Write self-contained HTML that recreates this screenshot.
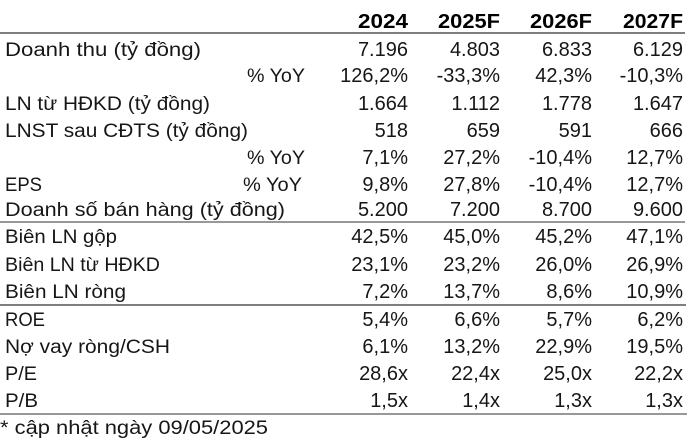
<!DOCTYPE html>
<html>
<head>
<meta charset="utf-8">
<style>
html,body{margin:0;padding:0;background:#fff;}
svg{display:block;}
text{font-family:"Liberation Sans","DejaVu Sans",sans-serif;fill:#161616;font-size:19px;}
.h{font-weight:bold;font-size:20px;fill:#000;}
.n{text-anchor:end;font-size:20px;}
</style>
</head>
<body>
<svg width="689" height="444" viewBox="0 0 689 444" xmlns="http://www.w3.org/2000/svg">
<!-- header -->
<text class="h n" x="408" y="28" textLength="50" lengthAdjust="spacingAndGlyphs">2024</text>
<text class="h n" x="500" y="28" textLength="62" lengthAdjust="spacingAndGlyphs">2025F</text>
<text class="h n" x="592" y="28" textLength="62" lengthAdjust="spacingAndGlyphs">2026F</text>
<text class="h n" x="683" y="28" textLength="60" lengthAdjust="spacingAndGlyphs">2027F</text>
<line x1="0" y1="33" x2="685" y2="33" stroke="#555" stroke-width="1.4"/>

<!-- row 1 -->
<text x="5" y="56" textLength="196" lengthAdjust="spacingAndGlyphs">Doanh thu (tỷ đồng)</text>
<text class="n" x="408" y="56">7.196</text>
<text class="n" x="500" y="56">4.803</text>
<text class="n" x="592" y="56">6.833</text>
<text class="n" x="683" y="56">6.129</text>

<text x="247" y="82" textLength="58" lengthAdjust="spacingAndGlyphs">% YoY</text>
<text class="n" x="408" y="82">126,2%</text>
<text class="n" x="500" y="82">-33,3%</text>
<text class="n" x="592" y="82">42,3%</text>
<text class="n" x="683" y="82">-10,3%</text>

<text x="5" y="110" textLength="205" lengthAdjust="spacingAndGlyphs">LN từ HĐKD (tỷ đồng)</text>
<text class="n" x="408" y="110">1.664</text>
<text class="n" x="500" y="110">1.112</text>
<text class="n" x="592" y="110">1.778</text>
<text class="n" x="683" y="110">1.647</text>

<text x="5" y="137" textLength="243" lengthAdjust="spacingAndGlyphs">LNST sau CĐTS (tỷ đồng)</text>
<text class="n" x="408" y="137">518</text>
<text class="n" x="500" y="137">659</text>
<text class="n" x="592" y="137">591</text>
<text class="n" x="683" y="137">666</text>

<text x="247" y="164" textLength="58" lengthAdjust="spacingAndGlyphs">% YoY</text>
<text class="n" x="408" y="164">7,1%</text>
<text class="n" x="500" y="164">27,2%</text>
<text class="n" x="592" y="164">-10,4%</text>
<text class="n" x="683" y="164">12,7%</text>

<text x="5" y="191" textLength="37" lengthAdjust="spacingAndGlyphs">EPS</text>
<text x="243" y="191" textLength="59" lengthAdjust="spacingAndGlyphs">% YoY</text>
<text class="n" x="408" y="191">9,8%</text>
<text class="n" x="500" y="191">27,8%</text>
<text class="n" x="592" y="191">-10,4%</text>
<text class="n" x="683" y="191">12,7%</text>

<text x="5" y="216" textLength="280" lengthAdjust="spacingAndGlyphs">Doanh số bán hàng (tỷ đồng)</text>
<text class="n" x="408" y="216">5.200</text>
<text class="n" x="500" y="216">7.200</text>
<text class="n" x="592" y="216">8.700</text>
<text class="n" x="683" y="216">9.600</text>
<line x1="0" y1="222" x2="685" y2="222" stroke="#777" stroke-width="1.4"/>

<text x="5" y="243" textLength="112" lengthAdjust="spacingAndGlyphs">Biên LN gộp</text>
<text class="n" x="408" y="243">42,5%</text>
<text class="n" x="500" y="243">45,0%</text>
<text class="n" x="592" y="243">45,2%</text>
<text class="n" x="683" y="243">47,1%</text>

<text x="5" y="271" textLength="155" lengthAdjust="spacingAndGlyphs">Biên LN từ HĐKD</text>
<text class="n" x="408" y="271">23,1%</text>
<text class="n" x="500" y="271">23,2%</text>
<text class="n" x="592" y="271">26,0%</text>
<text class="n" x="683" y="271">26,9%</text>

<text x="5" y="298" textLength="121" lengthAdjust="spacingAndGlyphs">Biên LN ròng</text>
<text class="n" x="408" y="298">7,2%</text>
<text class="n" x="500" y="298">13,7%</text>
<text class="n" x="592" y="298">8,6%</text>
<text class="n" x="683" y="298">10,9%</text>
<line x1="0" y1="305" x2="686" y2="305" stroke="#555" stroke-width="1.4"/>

<text x="5" y="326" textLength="40" lengthAdjust="spacingAndGlyphs">ROE</text>
<text class="n" x="408" y="326">5,4%</text>
<text class="n" x="500" y="326">6,6%</text>
<text class="n" x="592" y="326">5,7%</text>
<text class="n" x="683" y="326">6,2%</text>

<text x="5" y="353" textLength="165" lengthAdjust="spacingAndGlyphs">Nợ vay ròng/CSH</text>
<text class="n" x="408" y="353">6,1%</text>
<text class="n" x="500" y="353">13,2%</text>
<text class="n" x="592" y="353">22,9%</text>
<text class="n" x="683" y="353">19,5%</text>

<text x="5" y="380" textLength="32" lengthAdjust="spacingAndGlyphs">P/E</text>
<text class="n" x="408" y="380">28,6x</text>
<text class="n" x="500" y="380">22,4x</text>
<text class="n" x="592" y="380">25,0x</text>
<text class="n" x="683" y="380">22,2x</text>

<text x="5" y="407" textLength="33" lengthAdjust="spacingAndGlyphs">P/B</text>
<text class="n" x="408" y="407">1,5x</text>
<text class="n" x="500" y="407">1,4x</text>
<text class="n" x="592" y="407">1,3x</text>
<text class="n" x="683" y="407">1,3x</text>
<line x1="0" y1="414" x2="687" y2="414" stroke="#777" stroke-width="1.4"/>

<text x="0" y="434" textLength="268" lengthAdjust="spacingAndGlyphs">* cập nhật ngày 09/05/2025</text>
</svg>
</body>
</html>
